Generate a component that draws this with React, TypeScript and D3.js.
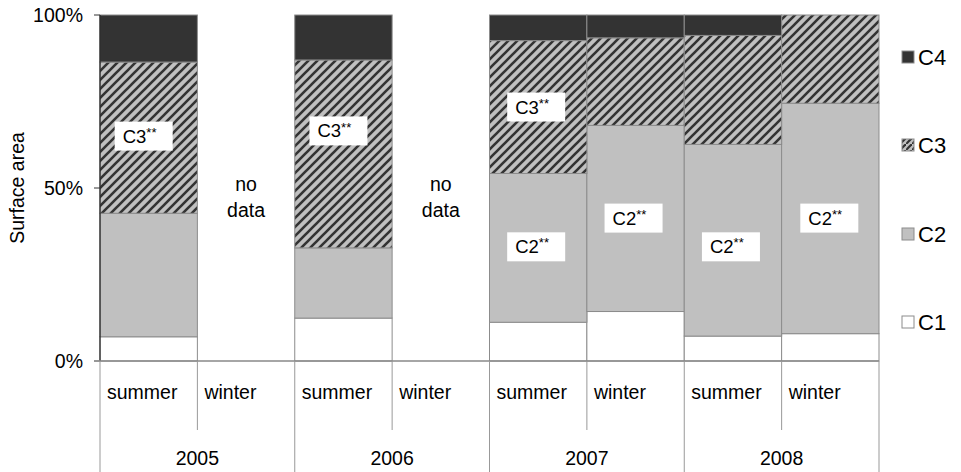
import React from "react";
import * as d3 from "d3";

const years = ["2005", "2006", "2007", "2008"];
const seasons = ["summer", "winter"];
const slots = ["2005s", "2005w", "2006s", "2006w", "2007s", "2007w", "2008s", "2008w"];
const C1 = [7.0, null, 12.4, null, 11.2, 14.3, 7.2, 7.9];
const C2 = [35.7, null, 20.3, null, 43.0, 53.8, 55.4, 66.6];
const C3 = [43.7, null, 54.3, null, 38.4, 25.3, 31.5, 25.5];
const C4 = [13.6, null, 13.0, null, 7.4, 6.6, 5.9, 0];
const seriesNames = ["C1", "C2", "C3", "C4"];
const yTicks = [0, 50, 100];
const noDataSlots = ["2005w", "2006w"];
// labels: slot, text, y position in %
const labelSlots = ["2005s", "2006s", "2007s", "2007s", "2007w", "2008s", "2008w"];
const labelTexts = ["C3", "C3", "C3", "C2", "C2", "C2", "C2"];
const labelY = [65, 66.5, 73.4, 33, 41.3, 33, 41.3];
const labelDx = [-5, -5, -2, -2, -2, -2, -1];

const FONT = "'Liberation Sans', Arial, sans-serif";
const FS = 19.5;

export default function App() {
  const W = 961, H = 472;
  const x = d3.scaleBand<string>().domain(slots).range([100, 879]).padding(0);
  const y = d3.scaleLinear().domain([0, 100]).range([361, 15]);
  const fills = ["#ffffff", "#c0c0c0", "url(#hatch)", "#333333"];
  const all = [C1, C2, C3, C4];
  const tableRows = slots.map((s, i) => {
    const o: any = { slot: s };
    seriesNames.forEach((n, k) => (o[n] = all[k][i] ?? 0));
    return o;
  });
  const stack = d3.stack<any>().keys(seriesNames)(tableRows);
  const bw = x.bandwidth();
  const legendY = [57, 145, 234, 322];

  return (
    <svg width={W} height={H} style={{ display: "block", position: "absolute", left: 0, top: 0 }} fontFamily={FONT}>
      <defs>
        <pattern id="hatch" patternUnits="userSpaceOnUse" width={9} height={9}>
          <rect width={9} height={9} fill="#c0c0c0" />
          <path d="M-1,10 L10,-1 M-3.25,3.25 L3.25,-3.25 M5.75,12.25 L12.25,5.75" stroke="#333" strokeWidth={2.6} />
        </pattern>
        <pattern id="hatchL" patternUnits="userSpaceOnUse" width={6} height={6}>
          <rect width={6} height={6} fill="#c0c0c0" />
          <path d="M-1,7 L7,-1" stroke="#333" strokeWidth={2.2} />
        </pattern>
      </defs>
      {/* bars */}
      {stack.map((layer, k) =>
        layer.map((d, i) => {
          if (all[k][i] == null) return null;
          if (d[1] - d[0] <= 0) return null;
          return (
            <rect
              key={`${k}-${i}`}
              x={x(slots[i])!}
              y={y(d[1])}
              width={bw}
              height={y(d[0]) - y(d[1])}
              fill={fills[k]}
              stroke="#8c8c8c"
              strokeWidth={1}
            />
          );
        })
      )}
      {/* y axis */}
      <line x1={100} x2={100} y1={y(100)} y2={y(0)} stroke="#000" strokeWidth={1} />
      <line x1={94} x2={879} y1={y(0)} y2={y(0)} stroke="#888" strokeWidth={1.5} />
      {yTicks.map((t) => (
        <g key={t}>
          <line x1={94} x2={100} y1={y(t)} y2={y(t)} stroke={t === 0 ? "#888" : "#333"} strokeWidth={1} />
          <text x={83} y={y(t)} dy="0.35em" textAnchor="end" fontSize={FS} fill="#000">
            {t}%
          </text>
        </g>
      ))}
      <text transform={`translate(17,${y(50)}) rotate(-90)`} textAnchor="middle" dy="0.35em" fontSize={FS}>
        Surface area
      </text>
      {/* category axis separators */}
      {slots.map((s, i) => (
        <line
          key={s}
          x1={x(s)!}
          x2={x(s)!}
          y1={y(0)}
          y2={i % 2 === 0 ? 472 : 430}
          stroke="#999"
          strokeWidth={1}
        />
      ))}
      <line x1={879} x2={879} y1={y(0)} y2={472} stroke="#999" strokeWidth={1} />
      {slots.map((s, i) => (
        <text key={s + "t"} x={x(s)! + 7} y={392} dy="0.35em" fontSize={FS}>
          {seasons[i % 2]}
        </text>
      ))}
      {years.map((yr, j) => (
        <text key={yr} x={x(slots[2 * j])! + bw} y={458} dy="0.35em" textAnchor="middle" fontSize={FS}>
          {yr}
        </text>
      ))}
      {/* no data */}
      {noDataSlots.map((s) => (
        <text key={s} x={x(s)! + bw / 2} textAnchor="middle" fontSize={FS}>
          <tspan x={x(s)! + bw / 2} y={y(51)} dy="0.35em">no</tspan>
          <tspan x={x(s)! + bw / 2} y={y(43.5)} dy="0.35em">data</tspan>
        </text>
      ))}
      {/* labels */}
      {labelSlots.map((s, i) => {
        const cx = x(s)! + bw / 2 + labelDx[i];
        const cy = y(labelY[i]);
        return (
          <g key={"l" + i}>
            <rect x={cx - 29} y={cy - 14.5} width={58} height={29} fill="#fff" />
            <text x={cx - 21} y={cy} dy="0.35em" fontSize={18.5}>
              {labelTexts[i]}
              <tspan fontSize={13} dy="-0.45em">**</tspan>
            </text>
          </g>
        );
      })}
      {/* legend */}
      {[3, 2, 1, 0].map((k, j) => (
        <g key={"lg" + k}>
          <rect
            x={902}
            y={legendY[j] - 6}
            width={12}
            height={12}
            fill={k === 2 ? "url(#hatchL)" : fills[k]}
            stroke="#8c8c8c"
            strokeWidth={1}
          />
          <text x={918} y={legendY[j]} dy="0.36em" fontSize={22}>
            {seriesNames[k]}
          </text>
        </g>
      ))}
    </svg>
  );
}
